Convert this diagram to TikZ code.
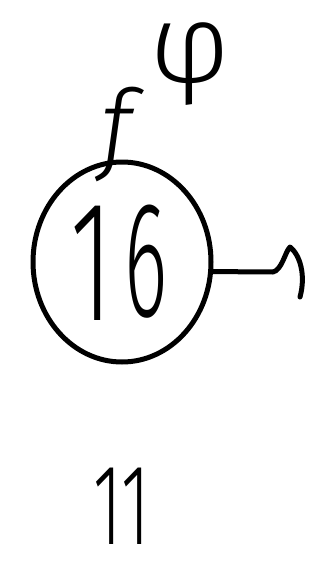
\documentclass[tikz,border=0pt]{standalone}
\usepackage{fontspec}
\usetikzlibrary{shapes.geometric}
\newfontfamily\hand{Fira Sans Light}
\newfontfamily\handit{Fira Sans Light Italic}
\begin{document}
\begin{tikzpicture}[x=1pt,y=-1pt,
  ink/.style={line width=5pt, line cap=round, line join=round},
  glyph/.style={inner sep=0pt, text=black}]
\useasboundingbox (0,0) rectangle (322,567);
\node[ink, draw, ellipse, minimum width=178pt, minimum height=200pt] (c) at (122,262) {};
\node[glyph, xscale=0.6] (one) at (92,263) {\hand\fontsize{172}{172}\selectfont 1};
\node[glyph, xscale=0.5] (six) at (146,262) {\hand\fontsize{165}{165}\selectfont 6};
\node[glyph] (f) at (116,134) {\handit\fontsize{100}{100}\selectfont f};
\node[glyph] (phi) at (190,64) {\hand\fontsize{112}{112}\selectfont φ};
\node[glyph, xscale=0.6] (eleven) at (122,506) {\hand\fontsize{115}{115}\selectfont 11};
\coordinate (tip) at (300,297);
\draw[ink] (c.-6) -- (273,272) .. controls (282,270) and (285,252) .. (290,247)
  .. controls (300,255) and (306,275) .. (tip);
\end{tikzpicture}
\end{document}
